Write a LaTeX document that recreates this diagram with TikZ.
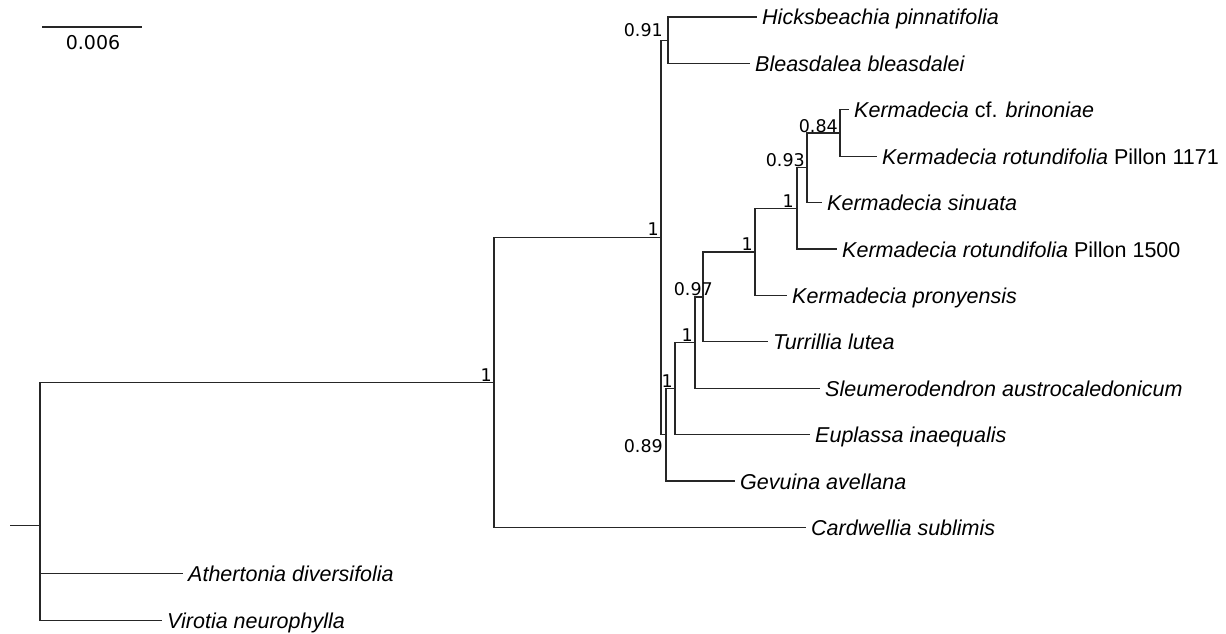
\documentclass[tikz,border=0pt]{standalone}
\usepackage{fontspec}
\setmainfont{Liberation Sans}
\newfontfamily\numfont{DejaVu Sans}
\tikzset{
  branch/.style={line width=1.3pt, draw=black!85},
  taxon/.style={anchor=base west, inner sep=0pt, xshift=5pt, yshift=-8pt,
    font=\fontsize{21.5}{24}\selectfont},
  support/.style={anchor=base east, inner sep=0pt,
    font=\numfont\fontsize{17.5}{20}\selectfont},
}
\begin{document}
\begin{tikzpicture}[x=1pt,y=-1pt]
\useasboundingbox (0,0) rectangle (1226,634);
% tips
\coordinate (hick) at (757,17);
\coordinate (blea) at (750,63.4);
\coordinate (brin) at (849,109.8);
\coordinate (rot1) at (877,156.2);
\coordinate (sinu) at (822,202.6);
\coordinate (rot2) at (837,249);
\coordinate (pron) at (787,295.4);
\coordinate (turr) at (768,341.8);
\coordinate (sleu) at (820,388.2);
\coordinate (eupl) at (810,434.6);
\coordinate (gevu) at (735,481);
\coordinate (card) at (806,527.4);
\coordinate (athe) at (183,573.8);
\coordinate (viro) at (162,620.2);
% internal nodes
\coordinate (k084) at (840,133);
\coordinate (k093) at (807,167.8);
\coordinate (k1a) at (797,208.4);
\coordinate (k1b) at (755,251.9);
\coordinate (n097) at (703,296.9);
\coordinate (n1c) at (695,342.5);
\coordinate (n1d) at (675,388.6);
\coordinate (n089) at (666,434.8);
\coordinate (n091) at (668,40.2);
\coordinate (n1e) at (661,237.5);
\coordinate (n1f) at (494,382.5);
\coordinate (root) at (40,525.5);
\coordinate (stub) at (10,525.5);
% branches
\draw[branch] (stub) -- (root);
\draw[branch] (root) |- (n1f);
\draw[branch] (root) |- (athe);
\draw[branch] (root) |- (viro);
\draw[branch] (n1f) |- (n1e);
\draw[branch] (n1f) |- (card);
\draw[branch] (n1e) |- (n091);
\draw[branch] (n1e) |- (n089);
\draw[branch] (n091) |- (hick);
\draw[branch] (n091) |- (blea);
\draw[branch] (n089) |- (n1d);
\draw[branch] (n089) |- (gevu);
\draw[branch] (n1d) |- (n1c);
\draw[branch] (n1d) |- (eupl);
\draw[branch] (n1c) |- (n097);
\draw[branch] (n1c) |- (sleu);
\draw[branch] (n097) |- (k1b);
\draw[branch] (n097) |- (turr);
\draw[branch] (k1b) |- (k1a);
\draw[branch] (k1b) |- (pron);
\draw[branch] (k1a) |- (k093);
\draw[branch] (k1a) |- (rot2);
\draw[branch] (k093) |- (k084);
\draw[branch] (k093) |- (sinu);
\draw[branch] (k084) |- (brin);
\draw[branch] (k084) |- (rot1);
% taxon names
\node[taxon] (l-hick) at (hick) {\textit{Hicksbeachia pinnatifolia}};
\node[taxon] (l-blea) at (blea) {\textit{Bleasdalea bleasdalei}};
\node[taxon] (l-brin) at (brin) {\textit{Kermadecia} cf. \textit{brinoniae}};
\node[taxon] (l-rot1) at (rot1) {\textit{Kermadecia rotundifolia} Pillon 1171};
\node[taxon] (l-sinu) at (sinu) {\textit{Kermadecia sinuata}};
\node[taxon] (l-rot2) at (rot2) {\textit{Kermadecia rotundifolia} Pillon 1500};
\node[taxon] (l-pron) at (pron) {\textit{Kermadecia pronyensis}};
\node[taxon] (l-turr) at (turr) {\textit{Turrillia lutea}};
\node[taxon] (l-sleu) at (sleu) {\textit{Sleumerodendron austrocaledonicum}};
\node[taxon] (l-eupl) at (eupl) {\textit{Euplassa inaequalis}};
\node[taxon] (l-gevu) at (gevu) {\textit{Gevuina avellana}};
\node[taxon] (l-card) at (card) {\textit{Cardwellia sublimis}};
\node[taxon] (l-athe) at (athe) {\textit{Athertonia diversifolia}};
\node[taxon] (l-viro) at (viro) {\textit{Virotia neurophylla}};
% support values
\node[support] (s-091) at (663,37) {0.91};
\node[support] (s-1f) at (492,381) {1};
\node[support] (s-1e) at (659,235) {1};
\node[support] (s-084) at (838,132) {0.84};
\node[support] (s-093) at (805,166) {0.93};
\node[support] (s-1a) at (794,207) {1};
\node[support] (s-1b) at (753,250) {1};
\node[support] (s-097) at (713,295) {0.97};
\node[support] (s-1c) at (693,341) {1};
\node[support] (s-1d) at (673,387) {1};
\node[support] (s-089) at (663,452) {0.89};
% scale bar
\coordinate (sb-l) at (42,27);
\coordinate (sb-r) at (142,27);
\draw[branch] (sb-l) -- (sb-r);
\node[support, anchor=base, font=\numfont\fontsize{19}{22}\selectfont]
  (sb-lab) at (93,50) {0.006};
\end{tikzpicture}
\end{document}
